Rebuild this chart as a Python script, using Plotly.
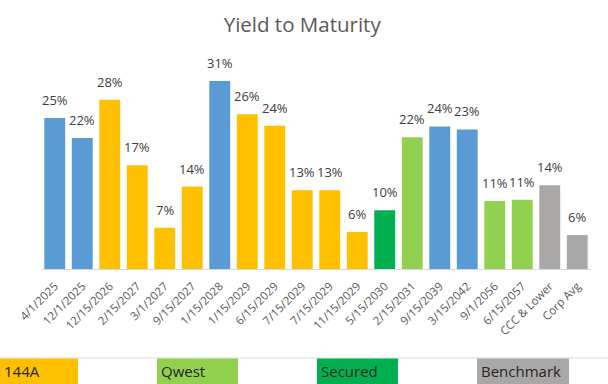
import plotly.graph_objects as go

categories = ["4/1/2025", "12/1/2025", "12/15/2026", "2/15/2027", "3/1/2027", "9/15/2027",
              "1/15/2028", "1/15/2029", "6/15/2029", "7/15/2029", "7/15/2029", "11/15/2029",
              "5/15/2030", "2/15/2031", "9/15/2039", "3/15/2042", "9/1/2056", "6/15/2057",
              "CCC & Lower", "Corp Avg"]
yields = [24.9, 21.6, 27.9, 17.1, 6.8, 13.6, 31.0, 25.5, 23.6, 13.0, 13.0, 6.1,
          9.7, 21.7, 23.5, 23.0, 11.2, 11.4, 13.8, 5.6]
groups = ["Other", "Other", "144A", "144A", "144A", "144A", "Other", "144A", "144A", "144A",
          "144A", "144A", "Secured", "Qwest", "Other", "Other", "Qwest", "Qwest",
          "Benchmark", "Benchmark"]
group_colors = {"Other": "#5B9BD5", "144A": "#FFC000", "Qwest": "#92D050",
                "Secured": "#00B050", "Benchmark": "#AAA7A7"}
legend_items = ["144A", "Qwest", "Secured", "Benchmark"]

x = list(range(len(categories)))
labels = [f"{round(v):d}%" for v in yields]

fig = go.Figure()
fig.add_trace(go.Bar(
    x=x, y=yields,
    marker=dict(color=[group_colors[g] for g in groups], line=dict(width=0)),
    showlegend=False, hoverinfo="skip",
))
for xi, v, lab in zip(x, yields, labels):
    fig.add_annotation(x=xi, y=v, text=lab, showarrow=False, yanchor="bottom",
                       yshift=7, font=dict(size=13, color="#404040", family="Open Sans"))

fig.update_layout(
    width=608, height=384,
    margin=dict(l=41, r=17, t=50, b=115, autoexpand=False),
    paper_bgcolor="white", plot_bgcolor="white",
    bargap=0.24,
    title=dict(text="Yield to Maturity", x=0.497, xanchor="center", y=0.935, yanchor="middle",
               font=dict(size=20.5, color="#595959", family="Open Sans")),
    xaxis=dict(tickmode="array", tickvals=x, ticktext=categories, tickangle=-45,
               range=[-0.5, len(categories) - 0.5], automargin=False,
               ticklabelstandoff=5,
               tickfont=dict(size=11.5, color="#595959", family="Open Sans"),
               showline=True, linecolor="#D9D9D9", linewidth=1, ticks="", showgrid=False),
    yaxis=dict(range=[0, 36.1], visible=False, showgrid=False, automargin=False),
)

# legend strip at bottom
box_pos = {"144A": (0, 78), "Qwest": (157, 238), "Secured": (317, 398), "Benchmark": (477, 569)}
fig.add_shape(type="line", xref="paper", yref="paper",
              x0=-41 / 550, x1=(608 - 41) / 550, y0=-89 / 219, y1=-89 / 219,
              line=dict(color="#D9D9D9", width=1))
for name in legend_items:
    a, b = box_pos[name]
    x0 = (a - 41) / 550
    x1 = (b - 41) / 550
    fig.add_shape(type="rect", xref="paper", yref="paper",
                  x0=x0, x1=x1, y0=-89.5 / 219, y1=-115 / 219,
                  fillcolor=group_colors[name], line=dict(width=0))
    fig.add_annotation(xref="paper", yref="paper", x=x0 + 2 / 550, y=-102 / 219,
                       text=name, showarrow=False, xanchor="left", yanchor="middle",
                       font=dict(size=15, color="#262626", family="Open Sans"))

fig.write_html("out.html", config={"displayModeBar": False},
               post_script="document.body.style.margin='0';document.body.style.overflow='hidden';")
